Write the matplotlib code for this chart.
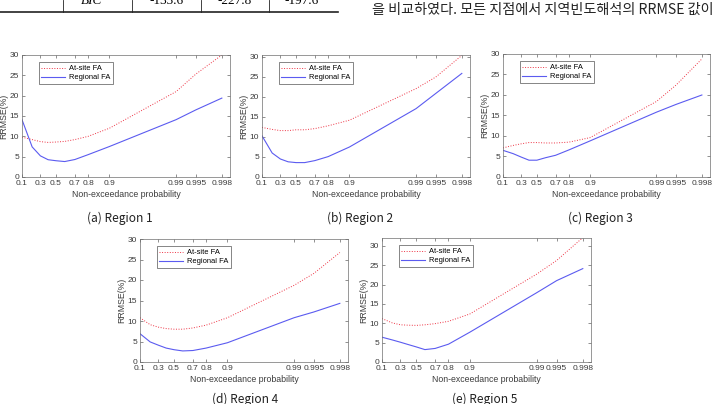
import numpy as np
import matplotlib
matplotlib.use("Agg")
import matplotlib.pyplot as plt

# 비초과확률 (Gumbel 확률지 위에 그림)
prob = [0.1, 0.2, 0.3, 0.4, 0.5, 0.6, 0.7, 0.8, 0.9, 0.99, 0.995, 0.998]

# RRMSE(%) - 그림에서 읽은 값
atsite_r1 = [9.8, 9.2, 8.7, 8.5, 8.6, 8.75, 9.2, 10.0, 12.0, 21.0, 25.3, 30.0]
regional_r1 = [14.1, 7.4, 5.2, 4.25, 4.0, 3.8, 4.3, 5.5, 7.5, 14.1, 16.5, 19.4]
atsite_r2 = [12.4, 11.9, 11.6, 11.6, 11.8, 11.8, 12.1, 12.8, 14.2, 22.1, 25.0, 30.4]
regional_r2 = [10.3, 6.0, 4.5, 3.8, 3.6, 3.6, 4.1, 5.1, 7.5, 17.1, 20.9, 25.9]
atsite_r3 = [7.1, 7.7, 8.1, 8.4, 8.4, 8.3, 8.3, 8.5, 9.6, 18.4, 22.4, 28.8]
regional_r3 = [6.5, 5.7, 4.85, 4.1, 4.1, 4.7, 5.3, 6.6, 8.8, 15.8, 17.7, 20.0]
atsite_r4 = [10.8, 9.1, 8.5, 8.15, 8.0, 8.0, 8.3, 9.0, 10.8, 18.7, 21.6, 26.7]
regional_r4 = [6.9, 4.9, 4.1, 3.4, 3.0, 2.7, 2.8, 3.4, 4.7, 10.8, 12.2, 14.3]
atsite_r5 = [11.2, 10.1, 9.6, 9.5, 9.45, 9.6, 9.9, 10.5, 12.4, 22.7, 26.2, 32.1]
regional_r5 = [6.4, 5.7, 5.1, 4.5, 3.9, 3.2, 3.5, 4.6, 7.7, 17.9, 21.0, 24.1]

xticks = [0.1, 0.3, 0.5, 0.7, 0.8, 0.9, 0.99, 0.995, 0.998]
xticklabels = ["0.1", "0.3", "0.5", "0.7", "0.8", "0.9", "0.99", "0.995", "0.998"]
captions = ["(a) Region 1", "(b) Region 2", "(c) Region 3", "(d) Region 4", "(e) Region 5"]
ymax = [30, 30.5, 30, 30, 32]

W, H = 715, 404
# 축 위치 (픽셀: 왼쪽, 위, 오른쪽, 아래)
boxes = [(22, 55, 230, 177), (262, 55, 470, 177), (503, 54, 710, 177),
         (140, 239, 348, 362), (382, 238, 591, 362)]
cap_xy = [(120, 218), (360, 218), (600, 218), (245, 399), (485, 399)]


def gumbel(p):
    p = np.clip(np.asarray(p, dtype=float), 1e-9, 1 - 1e-9)
    return -np.log(-np.log(p))


def gumbel_inv(y):
    return np.exp(-np.exp(-np.asarray(y, dtype=float)))


plt.rcParams['font.family'] = ['Liberation Sans', 'DejaVu Sans']
fig = plt.figure(figsize=(W / 100, H / 100), dpi=100)

series = [(atsite_r1, regional_r1), (atsite_r2, regional_r2), (atsite_r3, regional_r3),
          (atsite_r4, regional_r4), (atsite_r5, regional_r5)]

axc = '#6e6e6e'
tc = '#3c3c3c'
for i, (a, r) in enumerate(series):
    l, t, rr, b = boxes[i]
    ax = fig.add_axes([l / W, 1 - b / H, (rr - l) / W, (b - t) / H])
    ax.plot(prob, a, ':', color='#ee3344', lw=0.7, label='At-site FA')
    ax.plot(prob, r, '-', color='#5b5bf0', lw=0.8, label='Regional FA')
    ax.set_xscale('function', functions=(gumbel, gumbel_inv))
    ax.set_xlim(0.1, 0.9985)
    ax.set_ylim(0, ymax[i])
    ax.set_xticks(xticks)
    ax.set_xticklabels(xticklabels)
    ax.set_yticks(range(0, 31, 5))
    ax.xaxis.set_minor_locator(matplotlib.ticker.NullLocator())
    ax.tick_params(direction='in', top=True, right=True, length=2, width=0.4,
                   labelsize=6.0, colors=tc, pad=2)
    for s in ax.spines.values():
        s.set_color(axc)
        s.set_linewidth(0.5)
    ax.set_xlabel('Non-exceedance probability', fontsize=6.3, color=tc, labelpad=2)
    ax.set_ylabel('RRMSE(%)', fontsize=6.3, color=tc, labelpad=1)
    leg = ax.legend(loc='upper left', bbox_to_anchor=(0.08, 0.94), fontsize=5.4,
                    handlelength=3.2, handletextpad=0.5, borderpad=0.35,
                    labelspacing=0.25, fancybox=False, framealpha=1, borderaxespad=0)
    leg.get_frame().set_edgecolor('#555555')
    leg.get_frame().set_linewidth(0.5)
    cx, cy = cap_xy[i]
    fig.text(cx / W, 1 - cy / H, captions[i], ha='center', va='center', fontsize=8.6,
             family=['Noto Sans CJK KR', 'DejaVu Sans'], color='#222222')

# 위쪽 표 조각과 본문 일부
fig.add_artist(plt.Line2D([0, 338 / W], [1 - 12 / H, 1 - 12 / H], color='#222222', lw=1.2))
for vx in [63, 132, 201, 269]:
    fig.add_artist(plt.Line2D([vx / W, vx / W], [1 - 12 / H, 1.0], color='#222222', lw=0.6))
table_vals = ["BIC", "-133.6", "-227.8", "-197.6"]
table_x = [92, 167, 235, 302]
for s, tx in zip(table_vals, table_x):
    fig.text(tx / W, 1 - 1 / H, s, ha='center', va='center', fontsize=9.5,
             family=['Liberation Serif'], style='italic' if s == 'BIC' else 'normal')
fig.text(372 / W, 1 - 10 / H, "을 비교하였다. 모든 지점에서 지역빈도해석의 RRMSE 값이",
         ha='left', va='center', fontsize=10.2, family=['Noto Sans CJK KR', 'DejaVu Sans'],
         color='#222222')

fig.savefig('out.png', dpi=100)
